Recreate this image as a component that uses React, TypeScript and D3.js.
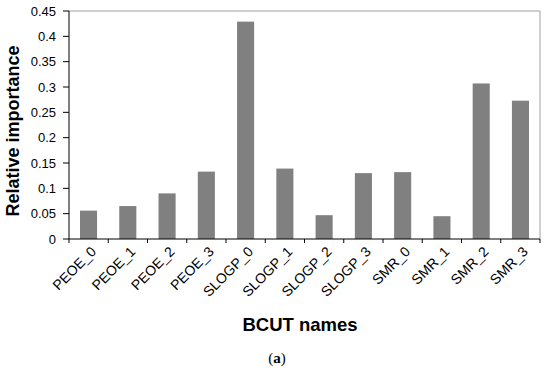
import React from "react";
import * as d3 from "d3";

const categories = ["PEOE_0","PEOE_1","PEOE_2","PEOE_3","SLOGP_0","SLOGP_1","SLOGP_2","SLOGP_3","SMR_0","SMR_1","SMR_2","SMR_3"];
const values = [0.056, 0.065, 0.09, 0.133, 0.429, 0.139, 0.047, 0.13, 0.132, 0.045, 0.307, 0.273];
const yTicks = [0, 0.05, 0.1, 0.15, 0.2, 0.25, 0.3, 0.35, 0.4, 0.45];

export default function App() {
  const W = 550, H = 369;
  const left = 69, right = 540, top = 11, bottom = 239;
  const x = d3.scaleBand<string>().domain(categories).range([left, right]).paddingInner(0.565).paddingOuter(0.28);
  const xb = d3.scaleBand<string>().domain(categories).range([left, right]);
  const y = d3.scaleLinear().domain([0, 0.45]).range([bottom, top]);
  const font = "Arial, 'Liberation Sans', sans-serif";
  return (
    <svg width={W} height={H} style={{ position: "absolute", left: 0, top: 0 }} fontFamily={font}>
      <rect x={0} y={0} width={W} height={H} fill="#fff" />
      <line x1={left} x2={right} y1={top} y2={top} stroke="#a0a0a0" strokeWidth={1} />
      <line x1={right} x2={right} y1={top} y2={bottom} stroke="#a0a0a0" strokeWidth={1} />
      {categories.map((c, i) => (
        <rect key={c} x={x(c)} y={y(values[i])} width={x.bandwidth()} height={bottom - y(values[i])} fill="#808080" />
      ))}
      <line x1={left} x2={left} y1={top} y2={bottom} stroke="#000" strokeWidth={1} />
      <line x1={left} x2={right} y1={bottom} y2={bottom} stroke="#000" strokeWidth={1} />
      {yTicks.map((t) => (
        <g key={t}>
          <line x1={left - 6} x2={left} y1={y(t)} y2={y(t)} stroke="#000" />
          <text x={left - 13} y={y(t)} dy="0.35em" textAnchor="end" fontSize={13} fill="#000">{d3.format("")(t)}</text>
        </g>
      ))}
      {categories.map((c) => (
        <line key={"t" + c} x1={(xb(c) as number) + xb.bandwidth()} x2={(xb(c) as number) + xb.bandwidth()} y1={bottom} y2={bottom + 4} stroke="#000" />
      ))}
      <line x1={left} x2={left} y1={bottom} y2={bottom + 4} stroke="#000" />
      {categories.map((c) => {
        const cx = (xb(c) as number) + xb.bandwidth() / 2 + 5;
        const cy = bottom + 10;
        return (
          <text key={"l" + c} x={cx} y={cy} textAnchor="end" fontSize={14} fill="#000" transform={`rotate(-45 ${cx} ${cy})`} dy="0.35em">{c}</text>
        );
      })}
      <text transform={`translate(18.5 131) rotate(-90)`} textAnchor="middle" fontSize={18} fontWeight="bold" fill="#000">Relative importance</text>
      <text x={300} y={331} textAnchor="middle" fontSize={18.5} fontWeight="bold" fill="#000">BCUT names</text>
      <text x={277} y={363} textAnchor="middle" fontSize={15} fontFamily="'Liberation Serif', 'DejaVu Serif', serif" fill="#000">(<tspan fontWeight="bold">a</tspan>)</text>
    </svg>
  );
}
